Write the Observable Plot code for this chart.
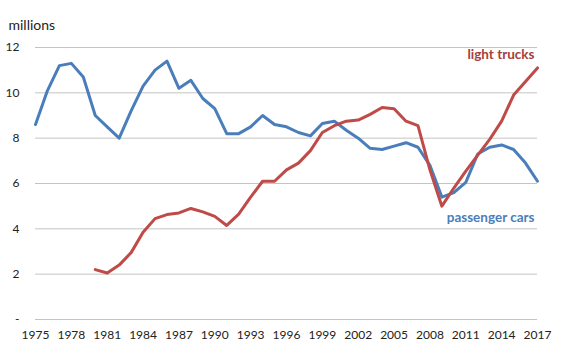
<!DOCTYPE html>
<html>
<head>
<meta charset="utf-8">
<script src="https://cdn.jsdelivr.net/npm/d3@7"></script>
<script src="https://cdn.jsdelivr.net/npm/@observablehq/plot@0.6"></script>
<style>
  html, body { margin: 0; padding: 0; background: #fff; }
  #chart { width: 575px; height: 353px; }
</style>
</head>
<body>
<div id="chart"></div>
<script>
const years = d3.range(1975, 2018);
const passengerCars = [8.6, 10.1, 11.2, 11.3, 10.7, 9.0, 8.5, 8.0, 9.2, 10.3,
  11.0, 11.4, 10.2, 10.55, 9.75, 9.3, 8.2, 8.2, 8.5, 9.0,
  8.6, 8.5, 8.25, 8.1, 8.65, 8.75, 8.35, 8.0, 7.55, 7.5,
  7.65, 7.8, 7.6, 6.8, 5.4, 5.6, 6.05, 7.3, 7.6, 7.7,
  7.5, 6.9, 6.1];
const lightTruckYears = d3.range(1980, 2018);
const lightTrucks = [2.2, 2.05, 2.4, 2.95, 3.85, 4.45, 4.63, 4.7, 4.9, 4.75,
  4.55, 4.15, 4.65, 5.4, 6.1, 6.1, 6.6, 6.9, 7.45, 8.25,
  8.55, 8.75, 8.8, 9.05, 9.35, 9.3, 8.75, 8.55, 6.6, 5.0,
  5.8, 6.55, 7.25, 7.95, 8.75, 9.9, 10.5, 11.1];
const xTicks = d3.range(1975, 2018, 3);
const yTicks = [0, 2, 4, 6, 8, 10, 12];
const seriesLabels = [
  {name: "light trucks", year: 2017, value: 11.7, color: "#a5403d"},
  {name: "passenger cars", year: 2017, value: 4.5, color: "#4a7ebb"}
];

const cars = years.map((y, i) => ({year: y, value: passengerCars[i]}));
const trucks = lightTruckYears.map((y, i) => ({year: y, value: lightTrucks[i]}));

const chart = Plot.plot({
  width: 575,
  height: 353,
  marginLeft: 35,
  marginRight: 38,
  marginTop: 47,
  marginBottom: 34,
  style: {fontFamily: "Lato, 'Open Sans', sans-serif", fontSize: "12px", color: "#222", background: "#fff"},
  x: {domain: [1975, 2017], ticks: xTicks, tickFormat: d => String(d), tickSize: 0, tickPadding: 11, label: null},
  y: {domain: [0, 12], ticks: yTicks, tickFormat: d => d === 0 ? "-" : String(d), tickSize: 0, tickPadding: 16, label: null},
  marks: [
    Plot.ruleY(yTicks, {stroke: "#c4c4c4", strokeWidth: 1}),
    Plot.line(cars, {x: "year", y: "value", stroke: "#4a7ebb", strokeWidth: 3, strokeLinejoin: "round"}),
    Plot.line(trucks, {x: "year", y: "value", stroke: "#be4b48", strokeWidth: 3, strokeLinejoin: "round"}),
    Plot.text(seriesLabels, {x: "year", y: "value", text: "name", fill: "color", textAnchor: "end", fontWeight: "bold", fontSize: 13.5, dx: -3}),
    Plot.text(["millions"], {frameAnchor: "top-left", dx: -27, dy: -27, textAnchor: "start", fontSize: 14, fill: "#222"})
  ]
});
document.getElementById("chart").append(chart);
</script>
</body>
</html>
